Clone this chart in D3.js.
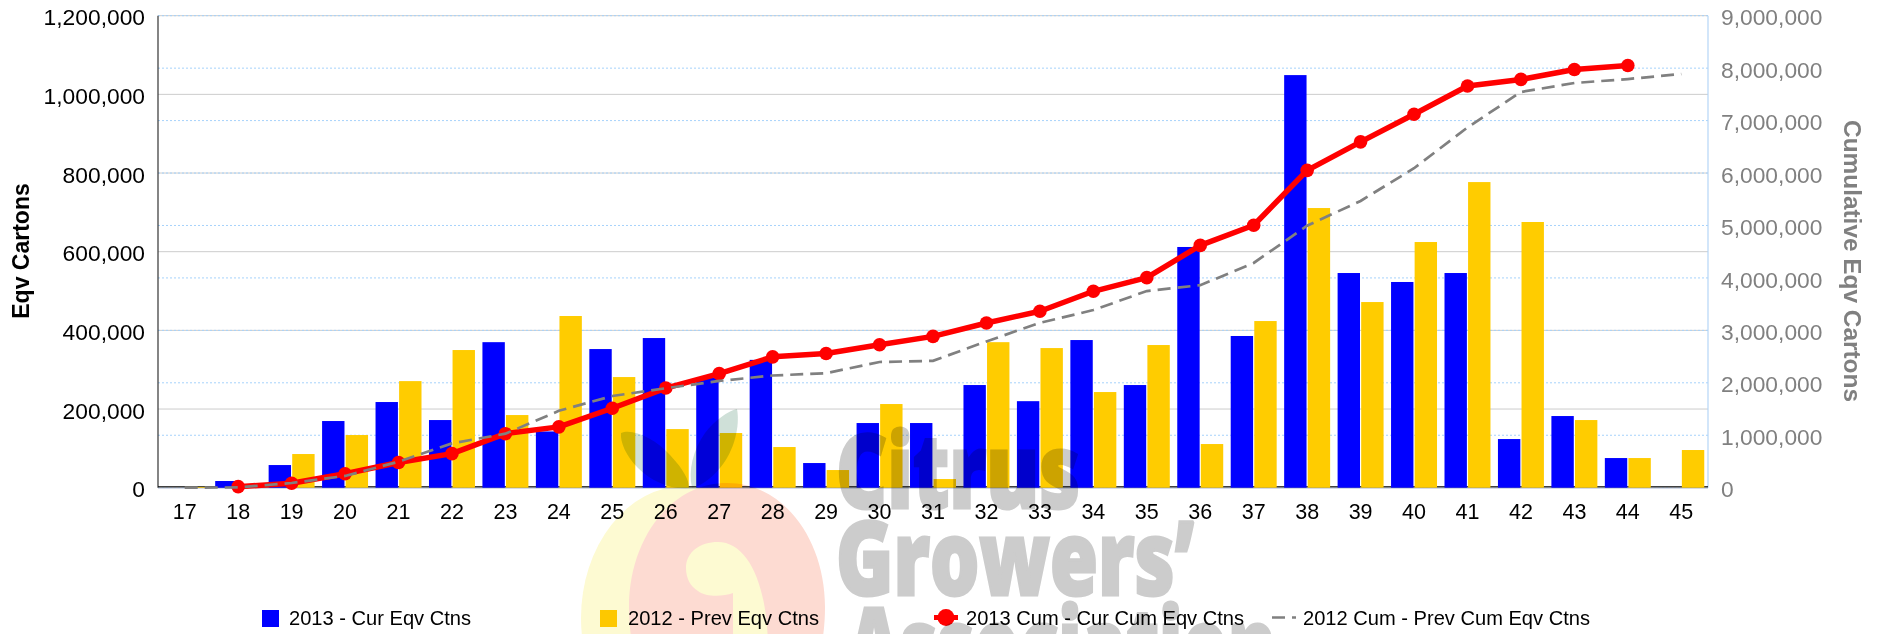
<!DOCTYPE html>
<html><head><meta charset="utf-8">
<script src="https://cdnjs.cloudflare.com/ajax/libs/d3/7.8.5/d3.min.js"></script>
<style>
html,body{margin:0;padding:0;background:#fff;overflow:hidden}
svg{display:block}
text{font-family:"Liberation Sans",Arial,sans-serif}
</style></head><body>
<svg id="c" width="1885" height="634"></svg>
<script>
const weeks=[17,18,19,20,21,22,23,24,25,26,27,28,29,30,31,32,33,34,35,36,37,38,39,40,41,42,43,44,45];
const curEqv=[0,17000,57600,169500,217800,172000,370000,143000,352500,380500,279000,325000,62700,164400,164400,261000,220000,375400,261000,612000,385700,1049000,545800,523000,545800,123700,182200,75400,0];
const prevEqv=[2000,3000,85600,133900,271000,350000,184700,436500,281300,149000,139000,103400,44900,212700,22000,370000,355000,243200,362700,111000,423700,711000,472000,624600,777000,675500,172000,75400,95800];
const curCum=[null,20000,85000,265000,480000,650000,1030000,1160000,1515000,1900000,2175000,2495000,2560000,2725000,2885000,3140000,3365000,3745000,4005000,4620000,5005000,6050000,6595000,7120000,7660000,7785000,7975000,8050000,null];
const prevCum=[2000,5000,90000,224000,495000,845000,1030000,1466000,1748000,1897000,2036000,2139000,2184000,2397000,2419000,2789000,3144000,3387000,3750000,3861000,4285000,4996000,5468000,6092000,6869000,7545000,7717000,7792000,7888000];
const leftTicks=[0,200000,400000,600000,800000,1000000,1200000];
const rightTicks=[0,1000000,2000000,3000000,4000000,5000000,6000000,7000000,8000000,9000000];
const legendLabels=["2013 - Cur Eqv Ctns","2012 - Prev Eqv Ctns","2013 Cum - Cur Cum Eqv Ctns","2012 Cum - Prev Cum Eqv Ctns"];
const axisTitles=["Eqv Cartons","Cumulative Eqv Cartons"];
const logoWords=["Citrus","Growers’","Association"];

const BLUE="#0000ff",GOLD="#ffcc00",RED="#ff0000",GRAY="#808080";
const L=158,R=1708,T=15.7,B=487.7;
const svg=d3.select("#c");
const fmt=d3.format(",");
const x=d3.scaleBand().domain(weeks).range([L,R]).paddingInner(.14).paddingOuter(.07);
const xs=d3.scaleBand().domain([0,1]).range([0,x.bandwidth()]).paddingInner(.05);
const y=d3.scaleLinear().domain([0,1200000]).range([B,T]);
const y2=d3.scaleLinear().domain([0,9000000]).range([B,T]);
const cx=w=>x(w)+x.bandwidth()/2;

// grid
svg.append("g").selectAll("line").data(leftTicks).join("line")
 .attr("x1",L).attr("x2",R).attr("y1",d=>y(d)).attr("y2",d=>y(d))
 .attr("stroke","#cccccc").attr("stroke-width",1);
svg.append("g").selectAll("line").data(rightTicks).join("line")
 .attr("x1",L).attr("x2",R).attr("y1",d=>y2(d)).attr("y2",d=>y2(d))
 .attr("stroke","#a6d2fb").attr("stroke-width",1).attr("stroke-dasharray","2,2");

// axes
const ax=svg.append("g").attr("transform",`translate(0,${B})`)
 .call(d3.axisBottom(x).tickSize(0).tickPadding(16));
ax.select(".domain").remove();
ax.selectAll("text").attr("font-size",21.5).attr("fill","#000").style("font-family",'"Liberation Sans",Arial,sans-serif');
const ay=svg.append("g").attr("transform",`translate(${L},0)`)
 .call(d3.axisLeft(y).tickValues(leftTicks).tickFormat(fmt).tickSize(0).tickPadding(13));
ay.select(".domain").remove();
ay.selectAll("text").attr("font-size",22.8).attr("fill","#000").attr("dy","0.4em").style("font-family",'"Liberation Sans",Arial,sans-serif');
const ay2=svg.append("g").attr("transform",`translate(${R},0)`)
 .call(d3.axisRight(y2).tickValues(rightTicks).tickFormat(fmt).tickSize(0).tickPadding(13));
ay2.select(".domain").remove();
ay2.selectAll("text").attr("font-size",22.8).attr("fill",GRAY).attr("dy","0.4em").style("font-family",'"Liberation Sans",Arial,sans-serif');

svg.append("line").attr("x1",L).attr("x2",L).attr("y1",T).attr("y2",B).attr("stroke","#333").attr("stroke-width",1.2);
svg.append("line").attr("x1",R).attr("x2",R).attr("y1",T).attr("y2",B).attr("stroke","#b5d6f7").attr("stroke-width",1.2);
svg.append("line").attr("x1",L).attr("x2",R).attr("y1",B-.8).attr("y2",B-.8).attr("stroke","#000").attr("stroke-width",1.2);
svg.append("line").attr("x1",L).attr("x2",R).attr("y1",B+.6).attr("y2",B+.6).attr("stroke","#d5dbe8").attr("stroke-width",1.2);

// bars
svg.append("g").selectAll("rect").data(weeks.map((w,i)=>({w,v:curEqv[i]}))).join("rect")
 .attr("x",d=>x(d.w)+xs(0)).attr("width",xs.bandwidth()).attr("y",d=>y(d.v)).attr("height",d=>B-y(d.v)).attr("fill",BLUE);
svg.append("g").selectAll("rect").data(weeks.map((w,i)=>({w,v:prevEqv[i]}))).join("rect")
 .attr("x",d=>x(d.w)+xs(1)).attr("width",xs.bandwidth()).attr("y",d=>y(d.v)).attr("height",d=>B-y(d.v)).attr("fill",GOLD);

// lines
const lineCur=d3.line().defined(d=>d.v!=null).x(d=>cx(d.w)).y(d=>y2(d.v));
const curPts=weeks.map((w,i)=>({w,v:curCum[i]}));
svg.append("path").datum(curPts).attr("d",lineCur).attr("fill","none").attr("stroke",RED).attr("stroke-width",5.5).attr("stroke-linejoin","round");
svg.append("g").selectAll("circle").data(curPts.filter(d=>d.v!=null)).join("circle")
 .attr("cx",d=>cx(d.w)).attr("cy",d=>y2(d.v)).attr("r",6.8).attr("fill",RED);
svg.append("path").datum(weeks.map((w,i)=>({w,v:prevCum[i]}))).attr("d",lineCur).attr("fill","none")
 .attr("stroke",GRAY).attr("stroke-width",2.7).attr("stroke-dasharray","13,7");

// axis titles
svg.append("text").attr("transform","translate(29,251) rotate(-90)").attr("text-anchor","middle")
 .attr("font-size",23).attr("font-weight","bold").attr("fill","#000").text(axisTitles[0]);
svg.append("text").attr("transform","translate(1844,261) rotate(90)").attr("text-anchor","middle")
 .attr("font-size",24.4).attr("font-weight","bold").attr("fill",GRAY).text(axisTitles[1]);

// legend
const legY=618.5;
svg.append("rect").attr("x",262).attr("y",610).attr("width",17).attr("height",17).attr("fill",BLUE);
svg.append("rect").attr("x",600).attr("y",610).attr("width",17).attr("height",17).attr("fill",GOLD);
svg.append("line").attr("x1",934).attr("x2",958).attr("y1",legY-1).attr("y2",legY-1).attr("stroke",RED).attr("stroke-width",5);
svg.append("circle").attr("cx",946).attr("cy",legY-1).attr("r",8.5).attr("fill",RED);
svg.append("line").attr("x1",1272).attr("x2",1296).attr("y1",legY-1).attr("y2",legY-1).attr("stroke",GRAY).attr("stroke-width",2.5).attr("stroke-dasharray","13,7");
svg.append("g").selectAll("text").data(legendLabels).join("text")
 .attr("x",(d,i)=>[289,628,966,1303][i]).attr("y",625).attr("font-size",20.1).attr("fill","#000").text(d=>d);

// watermark logo (sits over the chart, darkening what it crosses)
const logo=svg.append("g").style("mix-blend-mode","multiply");
logo.append("ellipse").attr("cx",685).attr("cy",618).attr("rx",104).attr("ry",132).attr("fill","#fdfad2");
logo.append("path").attr("fill","#fddbd2").attr("fill-rule","evenodd")
 .attr("d","M629,607 C629,540 670,483 727,483 C784,483 825,540 825,607 C825,680 790,740 727,740 C664,740 629,680 629,607 Z "+
  "M686,568 C686,552 700,542 718,542 C748,542 768,585 768,650 L733,650 L733,593 C722,597 706,597 698,591 C690,586 686,578 686,568 Z");
logo.append("path").attr("fill","#cfe0d8").attr("d","M621,433 C632,428 655,438 670,455 C684,470 689,480 689,488 C672,490 652,482 638,468 C626,456 620,442 621,433 Z");
logo.append("path").attr("fill","#cfe0d8").attr("d","M737,409 C740,425 735,450 720,468 C710,480 700,486 692,488 C688,470 693,450 705,433 C715,420 728,411 737,409 Z");
const words=[{x:836,y:508,w:244},{x:836,y:595,w:358},{x:848,y:682,w:428}];
logo.selectAll("text.w").data(words).join("text").attr("class","w")
 .attr("x",d=>d.x).attr("y",d=>d.y).attr("textLength",d=>d.w).attr("lengthAdjust","spacingAndGlyphs")
 .attr("font-size",102).attr("font-weight",800).style("font-family",'"Open Sans",sans-serif')
 .attr("fill","#cccccc").attr("stroke","#cccccc").attr("stroke-width",3)
 .text((d,i)=>logoWords[i]);
</script>
</body></html>
